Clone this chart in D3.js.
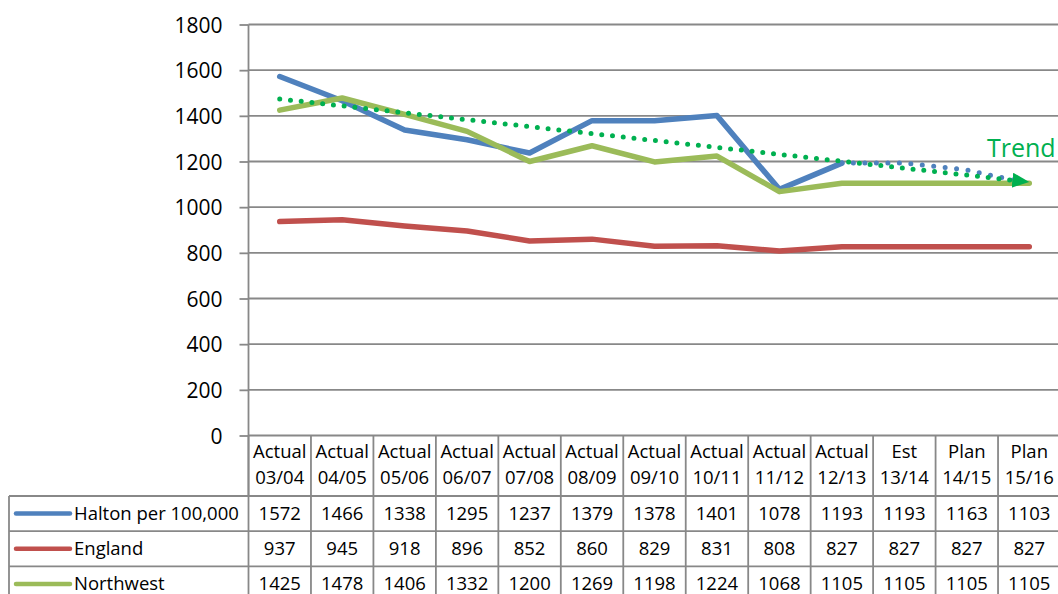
<!DOCTYPE html>
<html lang="en">
<head>
<meta charset="utf-8">
<title>Halton per 100,000 - trend chart</title>
<script src="https://d3js.org/d3.v7.min.js"></script>
<style>
  html, body { margin: 0; padding: 0; background: #fff; }
  svg { display: block; font-family: "Open Sans", sans-serif; }
</style>
</head>
<body>
<script>
// category labels (two lines each, as in the data table header)
var catTop = ["Actual","Actual","Actual","Actual","Actual","Actual","Actual","Actual","Actual","Actual","Est","Plan","Plan"];
var catBottom = ["03/04","04/05","05/06","06/07","07/08","08/09","09/10","10/11","11/12","12/13","13/14","14/15","15/16"];

// series values
var halton = [1572,1466,1338,1295,1237,1379,1378,1401,1078,1193,1193,1163,1103];
var england = [937,945,918,896,852,860,829,831,808,827,827,827,827];
var northwest = [1425,1478,1406,1332,1200,1269,1198,1224,1068,1105,1105,1105,1105];

// trend line, read at first and last category
var trendEnds = [1474, 1110];

// y axis ticks
var yTicks = [0,200,400,600,800,1000,1200,1400,1600,1800];

var seriesNames = ["Halton per 100,000", "England", "Northwest"];
var seriesColors = ["#4F81BD", "#C0504D", "#9BBB59"];
var trendColor = "#00B050";
var gridColor = "#888888";

var w = 1058, h = 594;
var plotLeft = 248.5, plotRight = 1060.5, plotTop = 24.5, plotBottom = 435.5;

var svg = d3.select("body").append("svg")
    .attr("width", w)
    .attr("height", h);

var x = d3.scaleBand()
    .domain(catBottom)
    .range([plotLeft, plotRight])
    .padding(0);

var y = d3.scaleLinear()
    .domain([0, 1800])
    .range([plotBottom, plotTop]);

var cx = function(i) { return x(catBottom[i]) + x.bandwidth() / 2; };

// gridlines
svg.append("g")
  .selectAll("line")
  .data(yTicks)
  .enter().append("line")
    .attr("x1", plotLeft)
    .attr("x2", plotRight)
    .attr("y1", function(d) { return y(d); })
    .attr("y2", function(d) { return y(d); })
    .attr("stroke", gridColor)
    .attr("stroke-width", 1.8);

// y axis with ticks and labels
var yAxis = d3.axisLeft(y)
    .tickValues(yTicks)
    .tickSize(9)
    .tickPadding(17)
    .tickFormat(d3.format("d"));

var gy = svg.append("g")
    .attr("transform", "translate(" + plotLeft + ",0)")
    .call(yAxis);
gy.select(".domain").remove();
gy.selectAll(".tick line").attr("stroke", gridColor).attr("stroke-width", 1.8);
gy.selectAll(".tick text")
    .attr("fill", "#000")
    .style("font-size", "21px")
    .style("font-family", "'Open Sans', sans-serif")
    .attr("dy", "0.36em");

// y axis line, continuing down through the table header
svg.append("line")
    .attr("x1", plotLeft).attr("x2", plotLeft)
    .attr("y1", plotTop).attr("y2", 496)
    .attr("stroke", gridColor).attr("stroke-width", 1.8);

// ---- data table ----
var headerBottom = 496;
var rowH = 35.2;
var tableLeft = 9;
var tbl = svg.append("g");

// vertical column dividers
tbl.selectAll("line.col")
  .data(d3.range(catBottom.length + 1))
  .enter().append("line")
    .attr("class", "col")
    .attr("x1", function(i) { return plotLeft + i * x.bandwidth(); })
    .attr("x2", function(i) { return plotLeft + i * x.bandwidth(); })
    .attr("y1", plotBottom)
    .attr("y2", headerBottom + rowH * 3)
    .attr("stroke", gridColor).attr("stroke-width", 1.8);

// table left border
tbl.append("line")
    .attr("x1", tableLeft).attr("x2", tableLeft)
    .attr("y1", headerBottom).attr("y2", headerBottom + rowH * 3)
    .attr("stroke", gridColor).attr("stroke-width", 1.8);

// horizontal row lines
tbl.selectAll("line.row")
  .data(d3.range(4))
  .enter().append("line")
    .attr("class", "row")
    .attr("x1", tableLeft)
    .attr("x2", plotRight)
    .attr("y1", function(r) { return headerBottom + r * rowH; })
    .attr("y2", function(r) { return headerBottom + r * rowH; })
    .attr("stroke", gridColor).attr("stroke-width", 1.8);

// header labels
var hdr = tbl.selectAll("text.hdr")
  .data(catBottom)
  .enter().append("text")
    .attr("class", "hdr")
    .attr("text-anchor", "middle")
    .style("font-size", "18.5px")
    .attr("fill", "#000");
hdr.append("tspan")
    .attr("x", function(d, i) { return cx(i); })
    .attr("y", 458)
    .text(function(d, i) { return catTop[i]; });
hdr.append("tspan")
    .attr("x", function(d, i) { return cx(i); })
    .attr("y", 484)
    .text(function(d) { return d; });

// series rows
var allSeries = [halton, england, northwest];
allSeries.forEach(function(vals, r) {
  var rowMid = headerBottom + r * rowH + rowH / 2;
  tbl.append("line")
      .attr("x1", 16).attr("x2", 70)
      .attr("y1", rowMid).attr("y2", rowMid)
      .attr("stroke", seriesColors[r])
      .attr("stroke-width", 4.5)
      .attr("stroke-linecap", "round");
  tbl.append("text")
      .attr("x", 74)
      .attr("y", rowMid)
      .attr("dy", "0.35em")
      .style("font-size", "18.5px")
      .attr("fill", "#000")
      .text(seriesNames[r]);
  tbl.selectAll("text.v" + r)
    .data(vals)
    .enter().append("text")
      .attr("class", "v" + r)
      .attr("x", function(d, i) { return cx(i); })
      .attr("y", rowMid)
      .attr("dy", "0.35em")
      .attr("text-anchor", "middle")
      .style("font-size", "18.5px")
      .attr("fill", "#000")
      .text(function(d) { return d; });
});

// ---- lines ----
var line = d3.line()
    .x(function(d) { return cx(d.i); })
    .y(function(d) { return y(d.v); });

function pts(vals, from, to) {
  return vals.map(function(v, i) { return { i: i, v: v }; }).slice(from, to);
}

var lines = svg.append("g")
    .attr("fill", "none")
    .attr("stroke-linejoin", "round");

// Halton actuals solid, estimate/plan dotted
lines.append("path")
    .attr("d", line(pts(halton, 0, 10)))
    .attr("stroke", seriesColors[0])
    .attr("stroke-width", 5.5)
    .attr("stroke-linecap", "round");
lines.append("path")
    .attr("d", line(pts(halton, 9, 13)))
    .attr("stroke", seriesColors[0])
    .attr("stroke-width", 5)
    .attr("stroke-linecap", "round")
    .attr("stroke-dasharray", "0 11.5");

lines.append("path")
    .attr("d", line(pts(england, 0, 13)))
    .attr("stroke", seriesColors[1])
    .attr("stroke-width", 5.5)
    .attr("stroke-linecap", "round");

lines.append("path")
    .attr("d", line(pts(northwest, 0, 13)))
    .attr("stroke", seriesColors[2])
    .attr("stroke-width", 5.5)
    .attr("stroke-linecap", "round");

// trend arrow
svg.append("defs").append("marker")
    .attr("id", "arrow")
    .attr("markerUnits", "userSpaceOnUse")
    .attr("markerWidth", 18)
    .attr("markerHeight", 16)
    .attr("refX", 17)
    .attr("refY", 7.5)
    .attr("orient", "auto")
  .append("path")
    .attr("d", "M0,0L17,7.5L0,15Z")
    .attr("fill", trendColor);

lines.append("path")
    .attr("d", line([{ i: 0, v: trendEnds[0] }, { i: catBottom.length - 1, v: trendEnds[1] }]))
    .attr("stroke", trendColor)
    .attr("stroke-width", 5)
    .attr("stroke-linecap", "round")
    .attr("stroke-dasharray", "0 10.8")
    .attr("marker-end", "url(#arrow)");

svg.append("text")
    .attr("x", 987)
    .attr("y", 157)
    .style("font-size", "25px")
    .attr("fill", trendColor)
    .text("Trend");
</script>
</body>
</html>
